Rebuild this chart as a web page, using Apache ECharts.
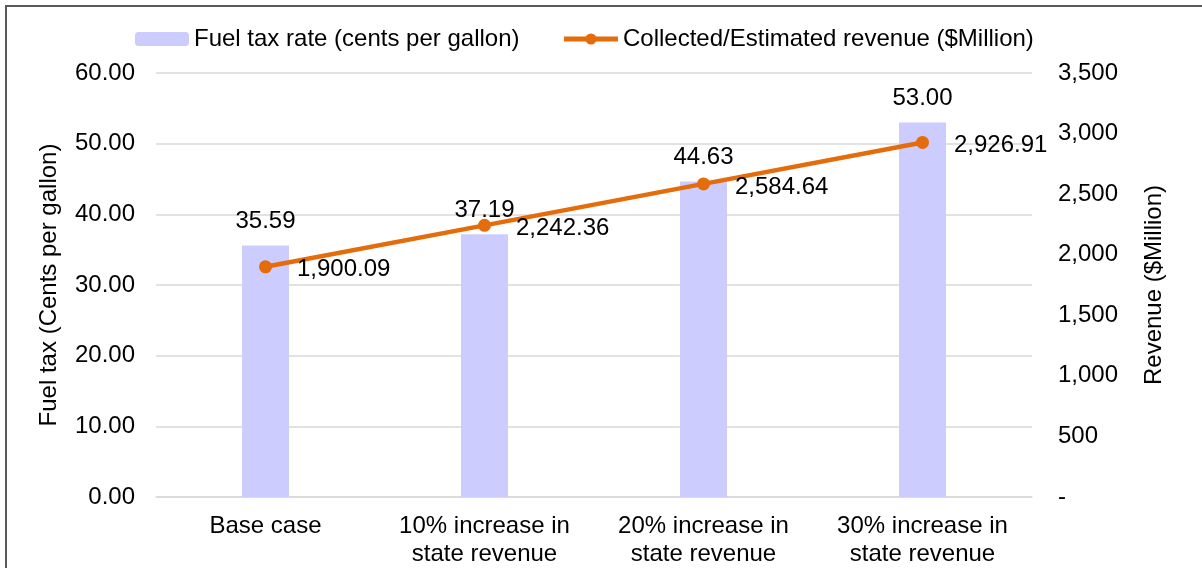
<!DOCTYPE html>
<html>
<head>
<meta charset="utf-8">
<script src="https://cdn.jsdelivr.net/npm/echarts@6/dist/echarts.min.js"></script>
<style>
  html, body { margin: 0; padding: 0; background: #fff; overflow: hidden; }
  #chart { width: 1202px; height: 568px; }
</style>
</head>
<body>
<div id="chart"></div>
<script>
// Scenario categories along the x axis
const categories = [
  'Base case',
  '10% increase in\nstate revenue',
  '20% increase in\nstate revenue',
  '30% increase in\nstate revenue'
];
// Fuel tax rate, cents per gallon (bars, left axis)
const taxRate = [35.59, 37.19, 44.63, 53.00];
// Collected / estimated revenue, $ million (line, right axis)
const revenue = [1900.09, 2242.36, 2584.64, 2926.91];

const FONT = '"Liberation Sans", Arial, sans-serif';
const TXT = '#000000';
const FS = 24;
const ORANGE = '#E46C0A';

const fmtComma = (v, d) => v.toLocaleString('en-US', { minimumFractionDigits: d, maximumFractionDigits: d });

const chart = echarts.init(document.getElementById('chart'), null, { renderer: 'canvas' });

chart.setOption({
  animation: false,
  backgroundColor: '#ffffff',
  textStyle: { fontFamily: FONT, color: TXT },
  graphic: [{
    type: 'rect',
    silent: true,
    shape: { x: 6, y: 6, width: 1400, height: 800 },
    style: { fill: 'none', stroke: '#595959', lineWidth: 2 }
  }],
  legend: {
    top: 22,
    left: 130,
    itemWidth: 54,
    itemHeight: 14,
    itemGap: 42,
    textStyle: { fontFamily: FONT, fontSize: FS, color: TXT },
    data: [
      { name: 'Fuel tax rate (cents per gallon)', itemStyle: { color: '#CCCCFF' } },
      {
        name: 'Collected/Estimated revenue ($Million)',
        itemStyle: { color: ORANGE },
        lineStyle: { color: ORANGE, width: 5 }
      }
    ]
  },
  grid: { left: 156, right: 170, top: 73, height: 424, containLabel: false },
  xAxis: {
    type: 'category',
    data: categories,
    axisLine: { lineStyle: { color: '#D9D9D9', width: 1.5 } },
    axisTick: { show: false },
    axisLabel: {
      fontFamily: FONT, fontSize: FS, color: TXT,
      margin: 15, lineHeight: 28, interval: 0
    }
  },
  yAxis: [{
    type: 'value',
    min: 0, max: 60, interval: 10,
    name: 'Fuel tax (Cents per gallon)',
    nameLocation: 'middle',
    nameGap: 95,
    nameTextStyle: { fontFamily: FONT, fontSize: FS, color: TXT },
    axisLine: { show: false },
    axisTick: { show: false },
    splitLine: { lineStyle: { color: '#D9D9D9', width: 1.5 } },
    axisLabel: {
      fontFamily: FONT, fontSize: FS, color: TXT, margin: 21,
      formatter: v => v.toFixed(2)
    }
  }, {
    type: 'value',
    min: 0, max: 3500, interval: 500,
    name: 'Revenue ($Million)',
    nameLocation: 'middle',
    nameGap: 110,
    nameRotate: 90,
    nameTextStyle: { fontFamily: FONT, fontSize: FS, color: TXT },
    axisLine: { show: false },
    axisTick: { show: false },
    splitLine: { show: false },
    axisLabel: {
      fontFamily: FONT, fontSize: FS, color: TXT, margin: 26,
      formatter: v => (v === 0 ? '-' : fmtComma(v, 0))
    }
  }],
  series: [{
    name: 'Fuel tax rate (cents per gallon)',
    type: 'bar',
    yAxisIndex: 0,
    data: taxRate,
    barWidth: 47,
    itemStyle: { color: '#CCCCFF' },
    label: {
      show: true, position: 'top', distance: 12,
      fontFamily: FONT, fontSize: FS, color: TXT,
      formatter: p => p.value.toFixed(2)
    },
    z: 2
  }, {
    name: 'Collected/Estimated revenue ($Million)',
    type: 'line',
    yAxisIndex: 1,
    data: revenue,
    symbol: 'circle',
    symbolSize: 13,
    lineStyle: { color: ORANGE, width: 4.5 },
    itemStyle: { color: ORANGE },
    label: {
      show: true, position: 'right', distance: 25, offset: [0, 3],
      fontFamily: FONT, fontSize: FS, color: TXT,
      formatter: p => fmtComma(p.value, 2)
    },
    z: 3
  }]
});
</script>
</body>
</html>
